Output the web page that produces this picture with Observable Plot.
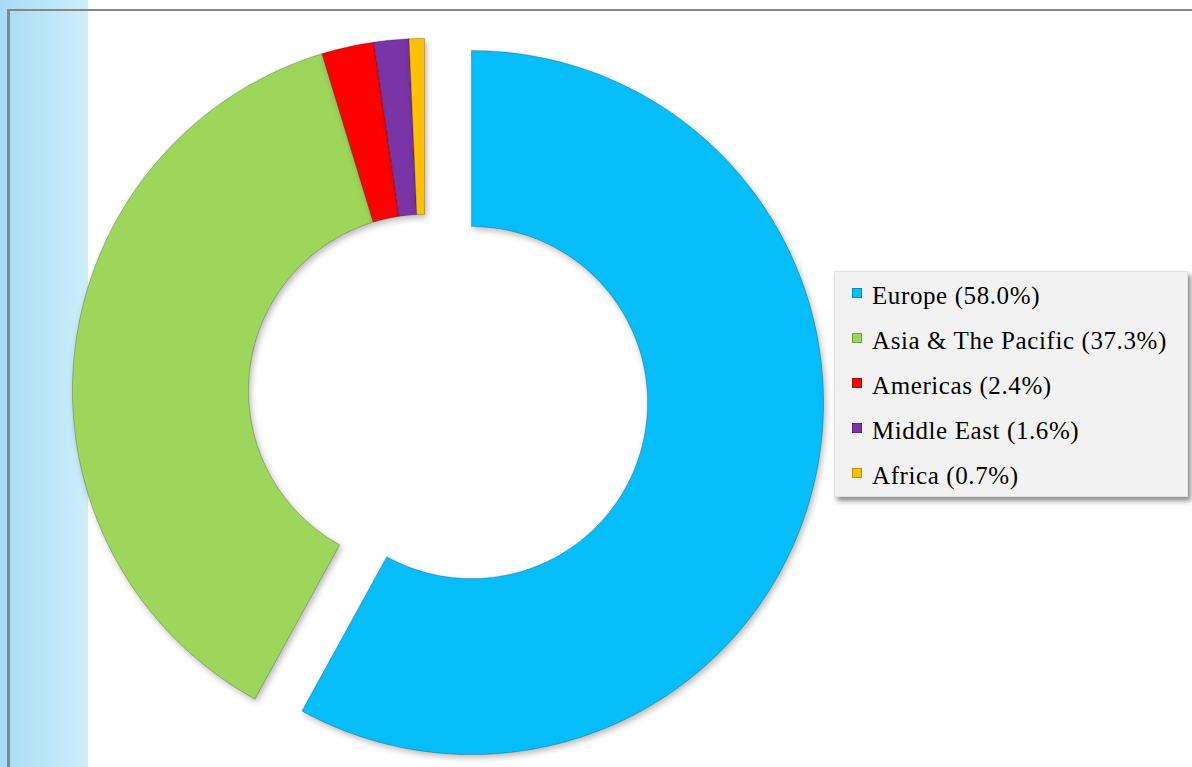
<!DOCTYPE html>
<html>
<head>
<meta charset="utf-8">
<script src="https://cdn.jsdelivr.net/npm/d3@7"></script>
<script src="https://cdn.jsdelivr.net/npm/@observablehq/plot@0.6"></script>
<style>
  html, body { margin: 0; padding: 0; background: #fff; }
  #wrap {
    position: relative; width: 1192px; height: 767px; overflow: hidden;
    background: linear-gradient(to right, #a7dbf6 0px, #cdeefa 88px, #ffffff 88px);
  }
  #frameTop { position: absolute; left: 7px; top: 9px; width: 1185px; height: 2px; background: #878787; }
  #frameLeft { position: absolute; left: 7px; top: 9px; width: 3px; height: 758px; background: #878787; }
  #chart { position: absolute; left: 0; top: 0; }
  #chart svg { background: transparent; overflow: visible; }
  #chart svg g[aria-label="line"] path { filter: drop-shadow(2px 3px 3px rgba(0,0,0,0.28)); }
  #legend {
    position: absolute; left: 834px; top: 271px; width: 354px; height: 226px;
    box-sizing: border-box; padding-top: 1px;
    background: #f2f2f2; border: 1px solid #e2e2e2;
    box-shadow: 3px 4px 5px rgba(0,0,0,0.45);
    font-family: "Liberation Serif", "Times New Roman", serif; font-size: 25px; letter-spacing: 0.6px; color: #000;
  }
  .row { position: relative; height: 45px; line-height: 45px; padding-left: 37px; white-space: nowrap; }
  .sw { position: absolute; left: 17px; top: 15px; width: 10px; height: 10px; box-sizing: border-box;
        border: 1px solid rgba(0,0,0,0.25); }
</style>
</head>
<body>
<div id="wrap">
  <div id="frameTop"></div>
  <div id="frameLeft"></div>
  <div id="chart"></div>
  <div id="legend"></div>
</div>
<script>
// ---- data ----
const regions = ["Europe", "Asia & The Pacific", "Americas", "Middle East", "Africa"];
const shares = [58.0, 37.3, 2.4, 1.6, 0.7];
const colors = ["#05bdf9", "#9dd65b", "#fe0000", "#7a34a6", "#ffc000"];
const exploded = ["Europe"];

// ---- layout constants ----
const W = 1192, H = 767;
const CX = 424, CY = 390, R = 352;  // pixel centre & outer radius
const HOLE = 0.5;                     // inner radius / outer radius
const EXPLODE = 0.138;                // offset of exploded slice, in radii

const total = d3.sum(shares);
const pts = [];
let acc = 0;
regions.forEach((name, i) => {
  const a0 = acc / total * 2 * Math.PI;
  acc += shares[i];
  const a1 = acc / total * 2 * Math.PI;
  const mid = (a0 + a1) / 2;
  const off = exploded.includes(name) ? EXPLODE : 0;
  const ox = Math.sin(mid) * off, oy = Math.cos(mid) * off;
  const n = Math.max(4, Math.ceil((a1 - a0) / 0.01));
  const ring = [];
  for (let k = 0; k <= n; k++) {
    const a = a0 + (a1 - a0) * k / n;
    ring.push({region: name, x: ox + Math.sin(a), y: oy + Math.cos(a)});
  }
  for (let k = n; k >= 0; k--) {
    const a = a0 + (a1 - a0) * k / n;
    ring.push({region: name, x: ox + HOLE * Math.sin(a), y: oy + HOLE * Math.cos(a)});
  }
  ring.push({...ring[0]});
  pts.push(...ring);
});

const plot = Plot.plot({
  width: W, height: H,
  margin: 0,
  x: {domain: [-CX / R, (W - CX) / R], axis: null},
  y: {domain: [(CY - H) / R, CY / R], axis: null},
  color: {domain: regions, range: colors},
  style: {background: "transparent"},
  marks: [
    Plot.line(pts, {
      x: "x", y: "y", z: "region", fill: "region",
      stroke: "rgba(0,0,0,0.22)", strokeWidth: 1, curve: "linear"
    })
  ]
});
document.getElementById("chart").appendChild(plot);

// ---- legend ----
const legend = d3.select("#legend");
regions.forEach((name, i) => {
  const row = legend.append("div").attr("class", "row");
  row.append("span").attr("class", "sw").style("background", colors[i]);
  row.append("span").text(`${name} (${shares[i].toFixed(1)}%)`);
});
</script>
</body>
</html>
